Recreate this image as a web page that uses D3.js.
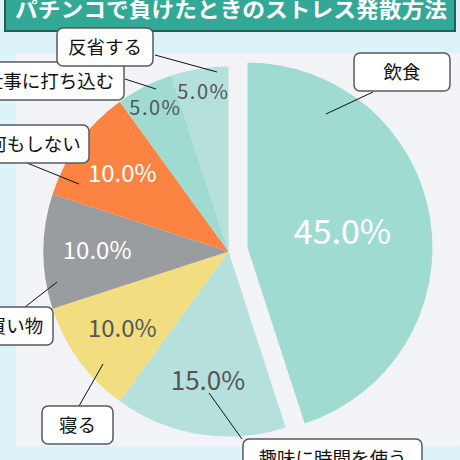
<!DOCTYPE html>
<html>
<head>
<meta charset="utf-8">
<script src="https://cdn.jsdelivr.net/npm/d3@7"></script>
<style>
  html, body { margin: 0; padding: 0; background: #dcf3fa; }
  svg { display: block; }
</style>
</head>
<body>
<div id="chart"></div>
<script>
'use strict';

// data
const title = "パチンコで負けたときのストレス発散方法";
const categories = ["飲食", "趣味に時間を使う", "寝る", "買い物", "何もしない", "仕事に打ち込む", "反省する"];
const values = [45, 15, 10, 10, 10, 5, 5];
const sliceColors = ["#a0dbd2", "#b5e0dc", "#f2dd80", "#9a9d9f", "#fd8342", "#a0dbd2", "#b5e0dc"];
const labelColors = ["#ffffff", "#555555", "#555555", "#ffffff", "#ffffff", "#555555", "#555555"];

// callout placement : box left/top/width + leader from slice to box edge
const callouts = [
  { box: [354, 53, 96],  from: [326, 114], to: [373, 92] },
  { box: [243, 439, 179], from: [209, 393], to: [242, 439] },
  { box: [42, 406, 71],  from: [103, 364], to: [79, 406] },
  { box: [-22, 307, 75], from: [57, 282],  to: [25, 307] },
  { box: [-20, 125, 109], from: [79, 184], to: [27, 163] },
  { box: [-25, 62, 149], from: [156, 89],  to: [125, 79] },
  { box: [57, 28, 96],   from: [217, 72],  to: [155, 55] }
];

function createPie(width, height) {
    let svg = d3.create("svg")
        .attr("width", width)
        .attr("height", height);

    // background
    svg.append("rect")
        .attr("width", width)
        .attr("height", height)
        .attr("fill", "#dcf3fa");

    // dotted panel
    let defs = svg.append("defs");
    let pat = defs.append("pattern")
        .attr("id", "dots")
        .attr("width", 4)
        .attr("height", 4)
        .attr("patternUnits", "userSpaceOnUse");
    pat.append("rect").attr("width", 4).attr("height", 4).attr("fill", "#f3f4f8");
    pat.append("rect").attr("x", 1).attr("y", 1).attr("width", 1).attr("height", 1).attr("fill", "#e8eaf0");

    svg.append("rect")
        .attr("x", 16)
        .attr("y", 53)
        .attr("width", width - 16)
        .attr("height", 393)
        .attr("fill", "url(#dots)");

    // title banner
    svg.append("rect")
        .attr("x", 5)
        .attr("y", -10)
        .attr("width", 450)
        .attr("height", 41)
        .attr("fill", "#34a897")
        .attr("stroke", "#2f5a54")
        .attr("stroke-width", 2);

    svg.append("text")
        .attr("x", 231)
        .attr("y", 17)
        .attr("text-anchor", "middle")
        .attr("textLength", 432)
        .attr("lengthAdjust", "spacingAndGlyphs")
        .style("font-family", "'Noto Sans CJK JP', sans-serif")
        .style("font-weight", "bold")
        .style("font-size", "21px")
        .style("fill", "#ffffff")
        .text(title);

    let cx = 228.5, cy = 251.5;
    let radius = 185;
    let explode = [19, -4];

    let pie = d3.pie().sort(null).value(function(d) { return d; });
    let arcs = pie(values);
    let total = d3.sum(values);

    let arc = d3.arc().innerRadius(0).outerRadius(radius);

    let g = svg.append("g")
        .attr("transform", "translate(" + cx + "," + cy + ")");

    let slice = g.selectAll("g.slice")
        .data(arcs)
        .enter().append("g")
        .attr("class", "slice")
        .attr("transform", function(d, i) {
            return i === 0 ? "translate(" + explode[0] + "," + explode[1] + ")" : null;
        });

    slice.append("path")
        .attr("d", arc)
        .attr("fill", function(d, i) { return sliceColors[i]; });

    // percent labels, small slices further out, the big one further in
    function labelRadius(v) {
        let p = v / total;
        if (p >= 0.4) return 0.52 * radius;
        if (p <= 0.05) return 0.87 * radius;
        return 0.71 * radius;
    }
    function labelSize(v) {
        let p = v / total;
        if (p >= 0.4) return 34;
        if (p >= 0.15) return 26;
        if (p >= 0.1) return 24;
        return 20;
    }

    slice.append("text")
        .attr("x", function(d) {
            let a = (d.startAngle + d.endAngle) / 2;
            return Math.sin(a) * labelRadius(d.value);
        })
        .attr("y", function(d) {
            let a = (d.startAngle + d.endAngle) / 2;
            return -Math.cos(a) * labelRadius(d.value) + 0.33 * labelSize(d.value);
        })
        .attr("text-anchor", "middle")
        .style("font-family", "'Noto Sans CJK JP', sans-serif")
        .style("font-size", function(d) { return labelSize(d.value) + "px"; })
        .style("letter-spacing", function(d) { return d.value / total <= 0.05 ? "1.5px" : null; })
        .style("fill", function(d, i) { return labelColors[i]; })
        .text(function(d) { return (100 * d.value / total).toFixed(1) + "%"; });

    // callouts
    let call = svg.append("g").attr("class", "callouts")
        .selectAll("g")
        .data(callouts)
        .enter().append("g");

    call.append("line")
        .attr("x1", function(d) { return d.from[0]; })
        .attr("y1", function(d) { return d.from[1]; })
        .attr("x2", function(d) { return d.to[0]; })
        .attr("y2", function(d) { return d.to[1]; })
        .style("stroke", "#111")
        .style("stroke-width", 1);

    call.append("rect")
        .attr("x", function(d) { return d.box[0]; })
        .attr("y", function(d) { return d.box[1]; })
        .attr("width", function(d) { return d.box[2]; })
        .attr("height", 38)
        .attr("rx", 6)
        .style("fill", "#ffffff")
        .style("stroke", "#555b5a")
        .style("stroke-width", 1.5);

    call.append("text")
        .attr("x", function(d) { return d.box[0] + d.box[2] / 2; })
        .attr("y", function(d) { return d.box[1] + 26; })
        .attr("text-anchor", "middle")
        .style("font-family", "'Noto Sans CJK JP', sans-serif")
        .style("font-size", "18.5px")
        .style("fill", "#111")
        .text(function(d, i) { return categories[i]; });

    return svg.node();
}

document.getElementById("chart").appendChild(createPie(460, 460));
</script>
</body>
</html>
